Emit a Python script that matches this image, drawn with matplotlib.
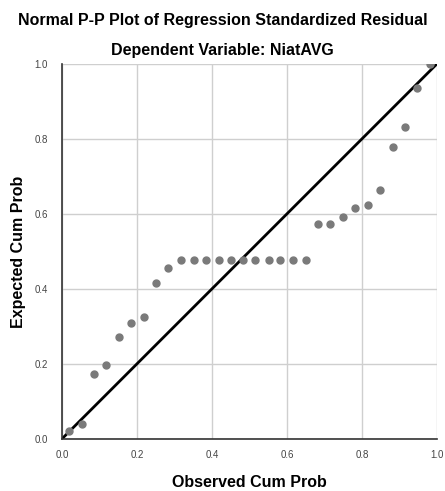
import matplotlib
matplotlib.use("Agg")
from matplotlib import pyplot as plt

# Observed vs expected cumulative probabilities
observed = [0.018, 0.053, 0.086, 0.118, 0.151, 0.185, 0.218, 0.251, 0.284, 0.317,
            0.351, 0.384, 0.418, 0.451, 0.484, 0.516, 0.551, 0.582, 0.616, 0.651,
            0.683, 0.715, 0.749, 0.782, 0.815, 0.849, 0.882, 0.915, 0.948, 0.982]
expected = [0.021, 0.040, 0.172, 0.197, 0.271, 0.308, 0.324, 0.415, 0.457, 0.477,
            0.477, 0.477, 0.477, 0.477, 0.477, 0.477, 0.477, 0.477, 0.477, 0.477,
            0.573, 0.573, 0.592, 0.616, 0.624, 0.664, 0.779, 0.831, 0.935, 1.0]
ticks = [0.0, 0.2, 0.4, 0.6, 0.8, 1.0]

plt.rcParams['font.family'] = ['Liberation Sans', 'DejaVu Sans']

fig = plt.figure(figsize=(4.45, 4.91), dpi=100)
ax = fig.add_axes([0.139, 0.106, 0.843, 0.764])

ax.set_xlim(0, 1)
ax.set_ylim(0, 1)
ax.set_xticks(ticks)
ax.set_yticks(ticks)
ax.set_xticklabels([f"{t:.1f}" for t in ticks])
ax.set_yticklabels([f"{t:.1f}" for t in ticks])
ax.tick_params(length=0, labelsize=7, colors='#444444')
ax.tick_params(axis='x', pad=8)
ax.tick_params(axis='y', pad=10)
ax.grid(True, color='#cfcfcf', linewidth=1.0)
ax.set_axisbelow(True)

for side in ['top', 'right']:
    ax.spines[side].set_visible(False)
for side in ['left', 'bottom']:
    ax.spines[side].set_color('#333333')
    ax.spines[side].set_linewidth(1.2)

# reference diagonal
ax.plot([0, 1], [0, 1], color='black', linewidth=2.0, zorder=2)
ax.plot(observed, expected, 'o', color='#7a7a7a', markersize=5, zorder=3)

ax.set_xlabel("Observed Cum Prob", fontsize=11.5, fontweight='bold', labelpad=11)
ax.set_ylabel("Expected Cum Prob", fontsize=11.5, fontweight='bold', labelpad=6)

fig.text(0.5, 0.959, "Normal P-P Plot of Regression Standardized Residual",
         ha='center', va='center', fontsize=11.5, fontweight='bold')
fig.text(0.5, 0.898, "Dependent Variable: NiatAVG",
         ha='center', va='center', fontsize=11.5, fontweight='bold')

fig.savefig("out.png", dpi=100)
